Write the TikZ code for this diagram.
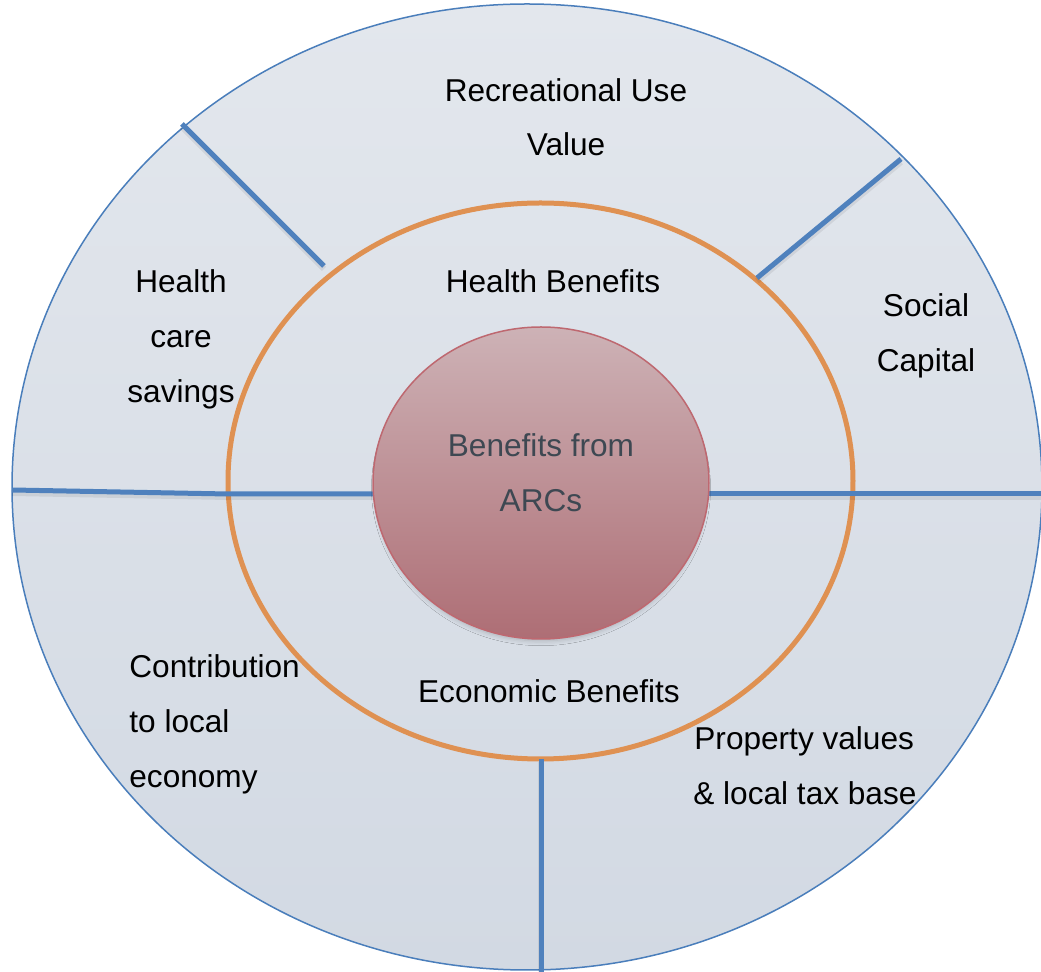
\documentclass[tikz,border=0pt]{standalone}
\usepackage{fontspec}
\setmainfont{Liberation Sans}
\usetikzlibrary{shapes.geometric,shadows.blur}
\definecolor{outerTop}{HTML}{E3E7ED}
\definecolor{outerBot}{HTML}{D2D9E3}
\definecolor{rimblue}{HTML}{4A7EBB}
\definecolor{divblue}{HTML}{4F81BD}
\definecolor{ringorange}{HTML}{DF9152}
\definecolor{coreTop}{HTML}{CDB2B6}
\definecolor{coreBot}{HTML}{AE6E75}
\definecolor{coreEdge}{HTML}{BE6870}
\definecolor{coreText}{HTML}{3E4852}
\begin{document}
\begin{tikzpicture}[x=0.5pt,y=-0.5pt,
  lbl/.style={font=\fontsize{15.8}{19}\selectfont, inner sep=0pt, anchor=base},
  lblL/.style={lbl, anchor=base west},
  divider/.style={draw=divblue, line width=2.5pt, line cap=butt},
  divshadow/.style={draw=black, opacity=0.07, line width=3pt, transform canvas={yshift=-1.5pt}},
]
\useasboundingbox (0,0) rectangle (1041,972);
% outer disc
\path[top color=outerTop, bottom color=outerBot, draw=rimblue, line width=0.75pt]
  (527,487) ellipse [x radius=515, y radius=483];
% orange ring
\draw[ringorange, line width=2.5pt] (540.5,481) ellipse [x radius=312.5, y radius=278];
% divider end points
\coordinate (la) at (12,490);
\coordinate (lm) at (228,494);
\coordinate (lb) at (385,494);
\coordinate (ra) at (700,494);
\coordinate (rb) at (1045,494);
\coordinate (ba) at (541,759);
\coordinate (bb) at (541,976);
\coordinate (ula) at (182,124);
\coordinate (ulb) at (324,266);
\coordinate (ura) at (757,278);
\coordinate (urb) at (901,159);
% shadows of dividers
\draw[divshadow] (la) -- (lm) -- (lb);
\foreach \a/\b in {ra/rb,ba/bb,ula/ulb,ura/urb}
  \draw[divshadow] (\a) -- (\b);
% dividers
\draw[divider] (la) -- (lm) -- (lb);
\foreach \a/\b in {ra/rb,ba/bb,ula/ulb,ura/urb}
  \draw[divider] (\a) -- (\b);
% core
\node[ellipse, minimum width=168pt, minimum height=156pt, inner sep=0pt,
      top color=coreTop, bottom color=coreBot, draw=coreEdge, line width=0.75pt,
      blur shadow={shadow xshift=0pt, shadow yshift=-2.5pt, shadow scale=0.98, shadow blur radius=2.5pt, shadow opacity=22}]
  (core) at (541,483) {};
\node[lbl, text=coreText] (core1) at (541,457) {Benefits from};
\node[lbl, text=coreText] (core2) at (541,512) {ARCs};
% labels
\node[lbl] (rec1) at (566,102) {Recreational Use};
\node[lbl] (rec2) at (566,156) {Value};
\node[lbl] (hb) at (553,293) {Health Benefits};
\node[lbl] (hc1) at (181,293) {Health};
\node[lbl] (hc2) at (181,348) {care};
\node[lbl] (hc3) at (181,403) {savings};
\node[lbl] (sc1) at (926,317) {Social};
\node[lbl] (sc2) at (926,372) {Capital};
\node[lbl] (eb) at (549,703) {Economic Benefits};
\node[lblL] (co1) at (129,678) {Contribution};
\node[lblL] (co2) at (129,733) {to local};
\node[lblL] (co3) at (129,788) {economy};
\node[lblL] (pv1) at (694,750) {Property values};
\node[lblL] (pv2) at (693,805) {\& local tax base};
\end{tikzpicture}
\end{document}
